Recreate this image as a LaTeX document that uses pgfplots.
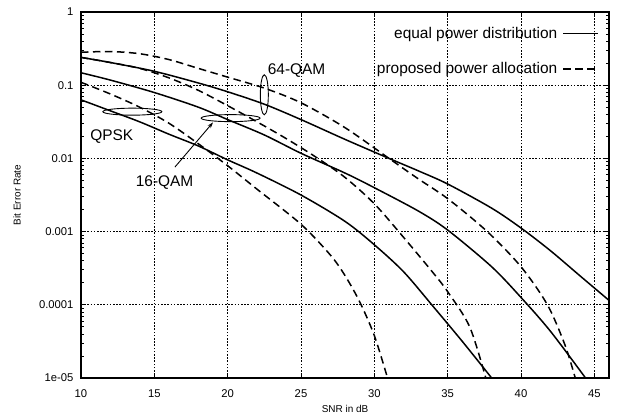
\documentclass[border=0pt]{standalone}
\usepackage{fontspec}
\setmainfont{Liberation Sans}
\usepackage{pgfplots}
\pgfplotsset{compat=1.18}
\usetikzlibrary{arrows.meta}

\pgfplotsset{
  eqp/.style={black, line width=1.5bp, smooth, tension=0.5, forget plot},
  prop/.style={black, line width=1.5bp, smooth, tension=0.5, dash pattern=on 7.5bp off 4.5bp, forget plot},
}

\begin{document}
\begin{tikzpicture}
\begin{axis}[
    scale only axis, width=528bp, height=366bp,
    xmin=10, xmax=46, ymin=1e-5, ymax=1, ymode=log,
    xtick={10,15,...,45},
    ytick={1e-5,1e-4,1e-3,1e-2,1e-1,1},
    yticklabels={1e-05,0.0001,0.001,0.01,0.1,1},
    /pgf/number format/assume math mode=true,
    tick label style={font=\fontsize{11.3}{13}\selectfont},
    yticklabel style={xshift=-4bp},
    xticklabel style={yshift=-8bp},
    xlabel={SNR in dB}, ylabel={Bit Error Rate},
    label style={font=\fontsize{11.3}{13}\selectfont},
    every axis x label/.style={at={(rel axis cs:0.5,0)}, yshift=-31bp, anchor=center},
    every axis y label/.style={at={(rel axis cs:0,0.5)}, xshift=-64bp, rotate=90, anchor=center},
    tick align=inside,
    major tick length=5bp, minor tick length=3bp,
    every tick/.style={black, line width=0.8bp},
    axis line style={line width=1.1bp},
    grid=major,
    major grid style={black, line width=0.75bp, dash pattern=on 1.6bp off 1.6bp},
    legend style={at={(rel axis cs:0.981,0.965)}, anchor=north east, draw=none, fill=none,
      font=\fontsize{15.5}{18}\selectfont, row sep=19bp, inner sep=0pt,
      /tikz/column sep=3bp, nodes={inner sep=2bp}},
    legend cell align=right,
    legend plot pos=right,
    legend image code/.code={\draw[#1] (0bp,0bp) -- (35bp,0bp);},
]
\coordinate (sw) at (rel axis cs:0,0);
\coordinate (ne) at (rel axis cs:1,1);

% QPSK
\addplot[eqp] coordinates {
  (10,0.0631) (12,0.0447) (14,0.0316) (16,0.0214) (18,0.01479) (20,0.00955)
  (22,0.00631) (25,0.00316) (28,0.00138) (30,6.61e-4) (32,2.82e-4)
  (34,9.55e-5) (36,3.16e-5) (38,1e-5)};
\addplot[prop] coordinates {
  (10,0.1096) (12,0.0759) (14,0.0501) (16,0.0302) (18,0.01585) (20,0.00794)
  (22,0.0038) (25,0.00126) (27,4.79e-4) (28,2.51e-4) (29,1.10e-4)
  (30,3.80e-5) (30.9,1e-5)};

% 16-QAM
\addplot[eqp] coordinates {
  (10,0.1479) (12,0.1175) (15,0.0794) (18,0.0501) (20,0.0339) (22.5,0.0209)
  (25,0.01175) (28,0.00631) (30,0.00398) (33,0.00191) (35,0.00105)
  (38,3.31e-4) (40,1.26e-4) (42,4.37e-5) (44.4,1e-5)};
\addplot[prop] coordinates {
  (10,0.2399) (12,0.2042) (14,0.1698) (16,0.1259) (18,0.0851) (20,0.0525)
  (22,0.0316) (24,0.0186) (26,0.01047) (28,0.0055) (30,0.0024)
  (32,8.32e-4) (34,2.75e-4) (35,1.51e-4) (36.5,5.01e-5) (37.6,1e-5)};

% 64-QAM
\addplot[eqp] coordinates {
  (10,0.2399) (12,0.2042) (15,0.1549) (18,0.1072) (20,0.0813) (22.5,0.0550)
  (25,0.0339) (28,0.0182) (31,0.0100) (33,0.00676) (35,0.00447)
  (38,0.00209) (40,0.00112) (42,5.50e-4) (44,2.51e-4) (46,1.15e-4)};
\addplot[prop] coordinates {
  (10,0.2818) (12,0.2884) (14,0.2692) (16,0.2239) (18,0.1698) (20,0.1288)
  (22.5,0.0912) (25,0.0575) (28,0.0263) (31,0.0100) (33,0.00525)
  (35,0.00282) (37.7,0.00100) (40,3.31e-4) (41.8,1.0e-4) (43,2.82e-5)
  (43.7,1e-5)};

\addlegendimage{black, line width=1.5bp}
\addlegendentry{equal power distribution}
\addlegendimage{black, line width=1.5bp, dash pattern=on 7.5bp off 4.5bp}
\addlegendentry{proposed power allocation}

% annotations
\draw[line width=0.9bp] (axis cs:13.5,0.0435) ellipse [x radius=29.5bp, y radius=3.5bp];
\draw[line width=0.9bp] (axis cs:20.2,0.0355) ellipse [x radius=29.5bp, y radius=3.5bp];
\draw[line width=0.9bp] (axis cs:22.5,0.074) ellipse [x radius=4bp, y radius=20bp];
\draw[line width=0.9bp, -{Stealth[length=6bp, width=4bp]}] (axis cs:16.4,0.0076) -- (axis cs:19.0,0.031);
\node[font=\fontsize{15.5}{18}\selectfont] at (axis cs:12.1,0.0196) {QPSK};
\node[font=\fontsize{15.5}{18}\selectfont] at (axis cs:15.7,0.0047) {16-QAM};
\node[font=\fontsize{15.5}{18}\selectfont] at (axis cs:24.7,0.157) {64-QAM};
\end{axis}
\pgfresetboundingbox
\path ([shift={(-81bp,-36bp)}]sw) rectangle ([shift={(8bp,12bp)}]ne);
\end{tikzpicture}
\end{document}
